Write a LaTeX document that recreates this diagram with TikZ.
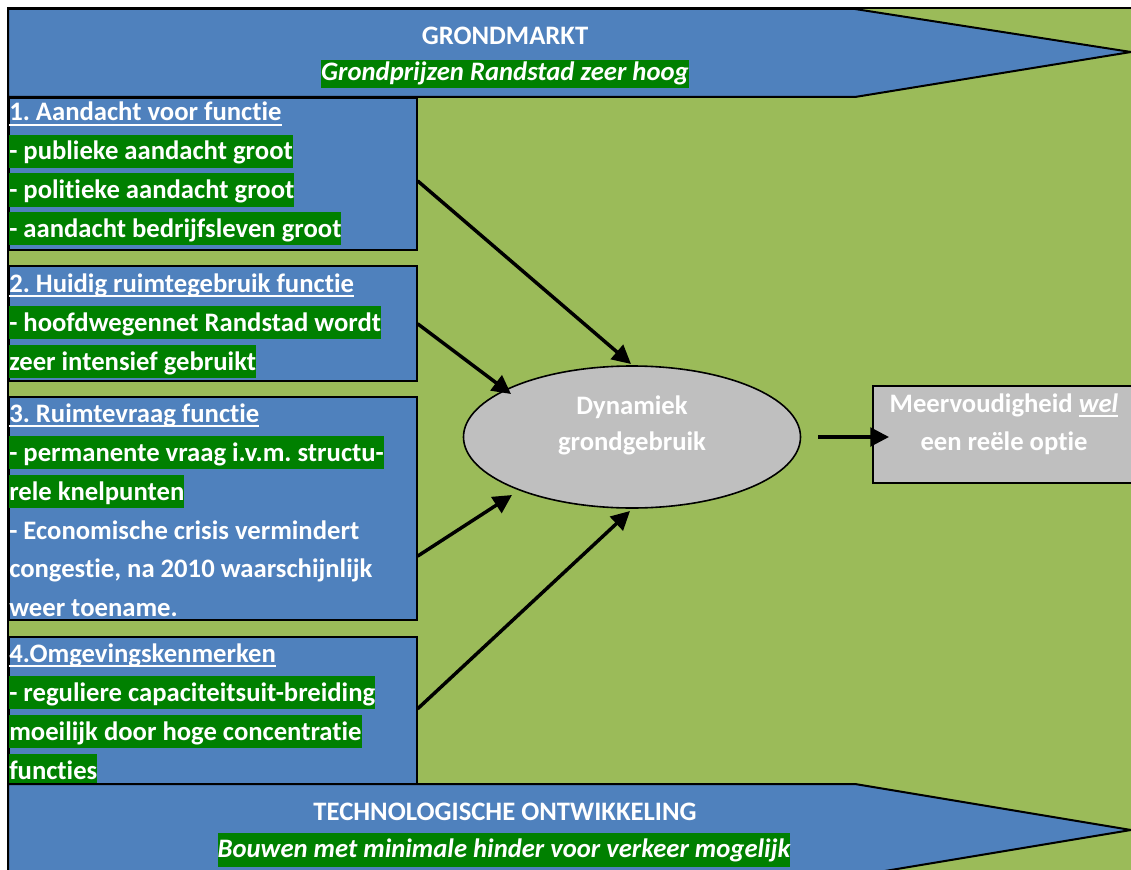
\documentclass[tikz,border=0pt]{standalone}
\usepackage{fontspec}
\setmainfont{Carlito}[Ligatures={NoCommon}]
\usetikzlibrary{arrows.meta,shapes.geometric,calc}
\definecolor{offblue}{HTML}{4F81BD}
\definecolor{offgreen}{HTML}{9BBB59}
\definecolor{hlgreen}{HTML}{008000}
\definecolor{shapegrey}{HTML}{BFBFBF}
\newsavebox{\myulbox}
\newcommand{\ulw}[1]{\sbox{\myulbox}{#1}\rlap{\rule[-3.4pt]{\wd\myulbox}{1.4pt}}\usebox{\myulbox}}
\frenchspacing
\begin{document}
\begin{tikzpicture}[x=0.75pt,y=-0.75pt,
  font=\fontsize{20pt}{24pt}\selectfont\bfseries\frenchspacing, text=white,
  bigarrow/.style={draw=black, line width=1.5pt, fill=offblue, line join=miter},
  boxnode/.style={draw=black, line width=1.2pt, fill=offblue, inner sep=0pt, anchor=north west, minimum width=306pt},
  txtline/.style={anchor=base west, inner xsep=0pt, inner ysep=0pt, text height=18.75pt, text depth=6pt},
  hl/.style={txtline, fill=hlgreen},
  conn/.style={draw=black, line width=2.6pt, -{Triangle[length=14pt,width=14pt]}},
  greyshape/.style={draw=black, line width=1.2pt, fill=shapegrey, inner sep=0pt}
]
\useasboundingbox (0,0) rectangle (1131,870);
\clip (0,0) rectangle (1131,870);

% background frame
\draw[fill=offgreen, line width=1.5pt] (8,8) rectangle (1145,885);

% top arrow
\draw[bigarrow] (8,9) -- (855,9) -- (1131,52) -- (855,97) -- (8,97) -- cycle;
\node[anchor=base] (gm) at (505,45) {GRONDMARKT};
\node[hl, anchor=base, text height=15.75pt, text depth=5.25pt] (gp) at (505,81) {\itshape Grondprijzen Randstad zeer hoog};

% boxes
\node[boxnode, minimum height=114pt] (b1) at (8,97) {};
\node[boxnode, minimum height=86.25pt] (b2) at (8,265) {};
\node[boxnode, minimum height=167.25pt] (b3) at (8,396) {};
\node[boxnode, minimum height=110.25pt] (b4) at (8,636) {};

% box 1
\node[txtline] (t11) at (9,121) {\ulw{1. Aandacht voor functie}};
\node[hl] (t12) at (9,160) {- publieke aandacht groot};
\node[hl] (t13) at (9,198.5) {- politieke aandacht groot};
\node[hl] (t14) at (9,237) {- aandacht bedrijfsleven groot};

% box 2
\node[txtline] (t21) at (9,292.5) {\ulw{2. Huidig ruimtegebruik functie}};
\node[hl] (t22) at (9,331) {- hoofdwegennet Randstad wordt};
\node[hl] (t23) at (9,370) {zeer intensief gebruikt};

% box 3
\begin{scope}
\clip (9,397) rectangle (415,618);
\node[txtline] (t31) at (9,422) {\ulw{3. Ruimtevraag functie}};
\node[hl] (t32) at (9,461) {- permanente vraag i.v.m. structu-};
\node[hl] (t33) at (9,500) {rele knelpunten};
\node[txtline] (t34) at (9,539) {- Economische crisis vermindert};
\node[txtline] (t35) at (9,577.5) {congestie, na 2010 waarschijnlijk};
\node[txtline] (t36) at (9,616) {weer toename.};
\end{scope}

% box 4
\node[txtline] (t41) at (9,662) {\ulw{4.Omgevingskenmerken}};
\node[hl] (t42) at (9,701) {- reguliere capaciteitsuit-breiding};
\node[hl] (t43) at (9,740) {moeilijk door hoge concentratie};
\node[hl] (t44) at (9,779) {functies};

% bottom arrow
\draw[bigarrow] (8,784) -- (855,784) -- (1131,830) -- (855,876) -- (8,876) -- cycle;
\node[anchor=base] (to) at (505,820) {TECHNOLOGISCHE ONTWIKKELING};
\node[hl, anchor=base, text height=18pt, text depth=7.5pt] (bw) at (504,857) {\itshape Bouwen met minimale hinder voor verkeer mogelijk};

% ellipse
\node[greyshape, ellipse, minimum width=252.75pt, minimum height=106.5pt] (e) at (632,437) {};
\node[anchor=base] (e1) at (632,414) {Dynamiek};
\node[anchor=base] (e2) at (632,450) {grondgebruik};

% result box
\node[greyshape, anchor=north west, minimum width=205pt, minimum height=72.75pt] (r) at (872,385) {};
\node[anchor=base] (r1) at (1004,412) {Meervoudigheid \ulw{\itshape wel}};
\node[anchor=base] (r2) at (1004,450) {een reële optie};

% connectors
\draw[conn] ($(b1.north east)!0.546!(b1.south east)$) -- ($(e.center)+(-1,-73)$);
\draw[conn] ($(b2.north east)!0.504!(b2.south east)$) -- ($(e.center)+(-121,-43)$);
\draw[conn] ($(b3.north east)!0.713!(b3.south east)$) -- ($(e.center)+(-120,58)$);
\draw[conn] ($(b4.north east)!0.49!(b4.south east)$) -- ($(e.center)+(-2,74)$);
\draw[conn, shorten <=12.75pt, shorten >=-12.75pt] (e.east) -- (e.east -| r.west);
\end{tikzpicture}
\end{document}
